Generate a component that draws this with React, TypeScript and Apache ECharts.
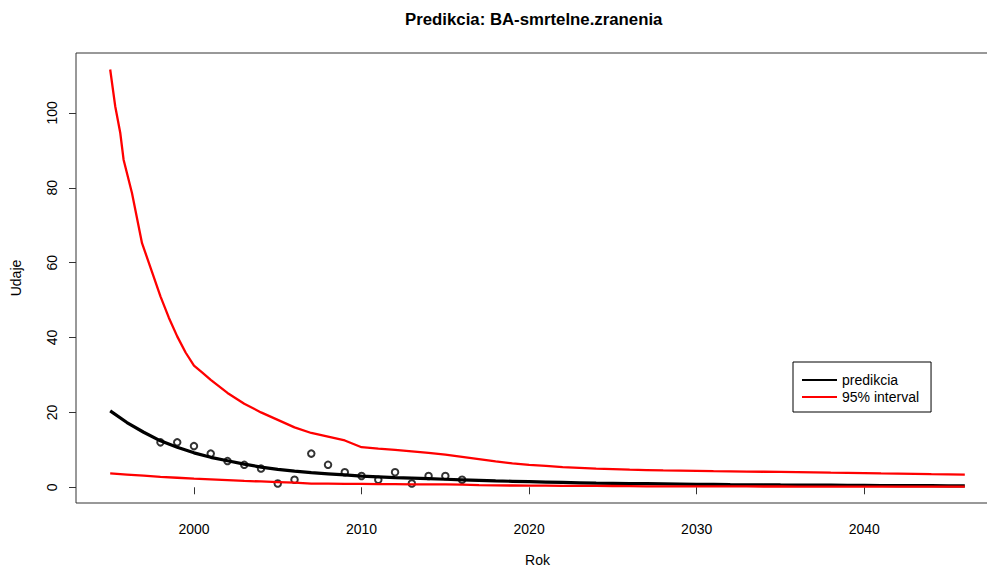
import React, { useEffect, useRef } from "react";
import * as echarts from "echarts";

const titleText = "Predikcia: BA-smrtelne.zranenia";
const xName = "Rok";
const yName = "Udaje";
const legendNames = ["predikcia", "95% interval"];
const xTicks = [2000, 2010, 2020, 2030, 2040];
const yTicks = [0, 20, 40, 60, 80, 100];

const observed: [number, number][] = [
  [1998, 12], [1999, 12], [2000, 11], [2001, 9], [2002, 7], [2003, 6], [2004, 5],
  [2005, 1], [2006, 2], [2007, 9], [2008, 6], [2009, 4], [2010, 3], [2011, 2],
  [2012, 4], [2013, 1], [2014, 3], [2015, 3], [2016, 2],
];

const prediction: [number, number][] = [
  [1995, 20.4], [1996, 17.3], [1997, 14.7], [1998, 12.4], [1999, 10.7], [2000, 9.2],
  [2001, 8.0], [2002, 7.1], [2003, 6.2], [2004, 5.4], [2005, 4.8], [2006, 4.3],
  [2007, 3.9], [2008, 3.6], [2009, 3.3], [2010, 3.0], [2011, 2.8], [2012, 2.6],
  [2013, 2.45], [2014, 2.3], [2015, 2.15], [2016, 2.0], [2017, 1.85], [2018, 1.7],
  [2019, 1.6], [2020, 1.5], [2021, 1.4], [2022, 1.3], [2023, 1.2], [2024, 1.1],
  [2025, 1.05], [2026, 1.0], [2027, 0.95], [2028, 0.9], [2029, 0.85], [2030, 0.8],
  [2031, 0.75], [2032, 0.7], [2033, 0.68], [2034, 0.65], [2035, 0.62], [2036, 0.6],
  [2037, 0.57], [2038, 0.55], [2039, 0.52], [2040, 0.5], [2041, 0.48], [2042, 0.46],
  [2043, 0.44], [2044, 0.42], [2045, 0.4], [2046, 0.38],
];

const upper: [number, number][] = [
  [1995, 111.6], [1995.3, 101.8], [1995.6, 94.7], [1995.8, 87.5], [1996.3, 78.6],
  [1996.9, 65.2], [1997.5, 57.5], [1998, 51], [1998.5, 45.3], [1999, 40.3],
  [1999.5, 36], [2000, 32.5], [2000.5, 30.6], [2001, 28.7], [2002, 25.2], [2003, 22.3],
  [2004, 20], [2005, 18], [2006, 16], [2007, 14.5], [2008, 13.5], [2009, 12.5],
  [2010, 10.7], [2011, 10.3], [2012, 10], [2013, 9.6], [2014, 9.2], [2015, 8.7],
  [2016, 8.1], [2017, 7.5], [2018, 6.9], [2019, 6.4], [2020, 6.0], [2021, 5.7],
  [2022, 5.4], [2023, 5.2], [2024, 5.0], [2025, 4.85], [2026, 4.7], [2027, 4.6],
  [2028, 4.5], [2029, 4.45], [2030, 4.4], [2031, 4.3], [2032, 4.25], [2033, 4.2],
  [2034, 4.15], [2035, 4.1], [2036, 4.05], [2037, 4.0], [2038, 3.9], [2039, 3.85],
  [2040, 3.8], [2041, 3.7], [2042, 3.65], [2043, 3.6], [2044, 3.5], [2045, 3.45],
  [2046, 3.4],
];

const lower: [number, number][] = [
  [1995, 3.7], [1996, 3.4], [1997, 3.1], [1998, 2.8], [1999, 2.55], [2000, 2.3],
  [2001, 2.1], [2002, 1.9], [2003, 1.7], [2004, 1.55], [2005, 1.4], [2006, 1.25],
  [2007, 1.0], [2008, 0.95], [2009, 0.9], [2010, 0.9], [2011, 0.85], [2012, 0.85],
  [2013, 0.8], [2014, 0.8], [2015, 0.75], [2016, 0.7], [2017, 0.55], [2018, 0.5],
  [2019, 0.47], [2020, 0.44], [2021, 0.42], [2022, 0.4], [2023, 0.38], [2024, 0.36],
  [2025, 0.34], [2026, 0.32], [2027, 0.25], [2028, 0.24], [2029, 0.24], [2030, 0.23],
  [2031, 0.23], [2032, 0.22], [2033, 0.22], [2034, 0.21], [2035, 0.21], [2036, 0.2],
  [2037, 0.2], [2038, 0.2], [2039, 0.19], [2040, 0.19], [2041, 0.19], [2042, 0.18],
  [2043, 0.18], [2044, 0.18], [2045, 0.17], [2046, 0.17],
];

const FONT = "'Liberation Sans', Arial, sans-serif";

export default function App() {
  const ref = useRef<HTMLDivElement>(null);
  useEffect(() => {
    if (!ref.current) return;
    document.body.style.margin = "0";
    document.body.style.overflow = "hidden";
    const chart = echarts.init(ref.current, null, { renderer: "svg", width: 987, height: 569 });
    chart.setOption({
      animation: false,
      backgroundColor: "#fff",
      textStyle: { fontFamily: FONT },
      title: {
        text: titleText,
        left: 405,
        top: 11,
        padding: 0,
        textStyle: { fontFamily: FONT, fontSize: 16.8, fontWeight: "bold", color: "#000" },
      },
      grid: {
        left: 76,
        top: 53,
        right: -12,
        bottom: 66,
        show: true,
        borderColor: "#333",
        borderWidth: 1,
        backgroundColor: "transparent",
        containLabel: false,
        outerBoundsMode: "none",
      },
      legend: {
        data: legendNames,
        orient: "vertical",
        left: 793,
        top: 362,
        padding: [11, 12, 8, 9],
        itemGap: 3,
        itemWidth: 35,
        itemHeight: 2,
        icon: "rect",
        borderColor: "#000",
        borderWidth: 1,
        borderRadius: 0,
        backgroundColor: "#fff",
        textStyle: { fontFamily: FONT, fontSize: 14, color: "#000" },
        selectedMode: false,
      },
      xAxis: {
        type: "value",
        min: 1992.96,
        max: 2048.04,
        name: xName,
        nameLocation: "middle",
        nameGap: 50,
        nameTextStyle: { fontFamily: FONT, fontSize: 14, lineHeight: 14, color: "#000" },
        axisLine: { show: false },
        splitLine: { show: false },
        axisTick: {
          show: true,
          length: 7,
          inside: false,
          customValues: xTicks,
          lineStyle: { color: "#333", width: 1 },
        },
        axisLabel: {
          customValues: xTicks,
          margin: 19,
          fontFamily: FONT,
          fontSize: 14,
          color: "#000",
          formatter: (v: number) => String(v),
        },
      },
      yAxis: {
        type: "value",
        min: -4.2,
        max: 116,
        name: yName,
        nameLocation: "middle",
        nameRotate: 90,
        nameGap: 53,
        nameTextStyle: { fontFamily: FONT, fontSize: 14, color: "#000" },
        axisLine: { show: false },
        splitLine: { show: false },
        axisTick: {
          show: true,
          length: 7,
          inside: false,
          customValues: yTicks,
          lineStyle: { color: "#333", width: 1 },
        },
        axisLabel: {
          customValues: yTicks,
          rotate: 90,
          margin: 17,
          fontFamily: FONT,
          fontSize: 14,
          color: "#000",
          formatter: (v: number) => String(v),
        },
      },
      series: [
        {
          type: "scatter",
          name: "data",
          data: observed,
          symbol: "emptyCircle",
          symbolSize: 6.5,
          itemStyle: { color: "#000", borderColor: "#333", borderWidth: 0.7 },
          z: 1,
        },
        {
          type: "line",
          name: legendNames[0],
          data: prediction,
          symbol: "none",
          color: "#000",
          lineStyle: { color: "#000", width: 3.2 },
          z: 2,
        },
        {
          type: "line",
          name: legendNames[1],
          data: upper,
          symbol: "none",
          color: "#ff0000",
          lineStyle: { color: "#ff0000", width: 2.3 },
          z: 3,
        },
        {
          type: "line",
          name: legendNames[1],
          data: lower,
          symbol: "none",
          color: "#ff0000",
          lineStyle: { color: "#ff0000", width: 2.3 },
          z: 3,
        },
      ],
    });
    return () => chart.dispose();
  }, []);
  return (
    <div
      ref={ref}
      style={{ position: "fixed", left: 0, top: 0, width: 987, height: 569, background: "#fff" }}
    />
  );
}
